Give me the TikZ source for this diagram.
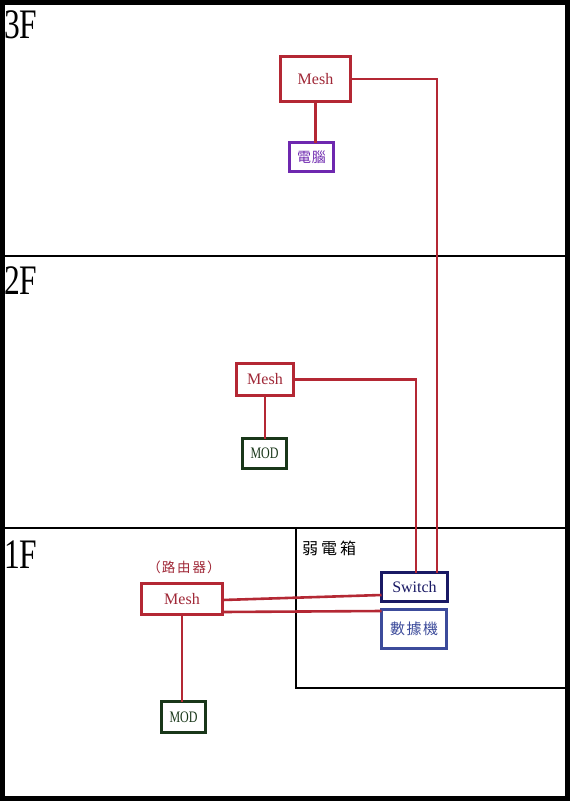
\documentclass[tikz,border=0pt]{standalone}
\usepackage{fontspec}
\setmainfont{Liberation Serif}
\newfontfamily\cjk{Noto Sans CJK TC}
\newfontfamily\cond{Liberation Serif}[FakeStretch=0.75]
\definecolor{meshred}{RGB}{180,40,52}
\definecolor{meshtext}{RGB}{160,40,55}
\definecolor{pcpurple}{RGB}{110,40,175}
\definecolor{modgreen}{RGB}{25,55,25}
\definecolor{swnavy}{RGB}{25,25,100}
\definecolor{modemblue}{RGB}{60,75,155}
\begin{document}
\begin{tikzpicture}[x=1pt,y=-1pt,
  box/.style={draw, line width=3pt, inner sep=0pt, outer sep=0pt},
  wire/.style={draw=meshred, line width=2.6pt},
  floorlbl/.style={anchor=north west, inner sep=0pt, font=\cond\fontsize{42}{42}\selectfont},
  lat/.style={font=\fontsize{16}{16}\selectfont},
  han/.style={font=\cjk\fontsize{14}{14}\selectfont}]
\useasboundingbox (0,0) rectangle (570,801);
\fill[white] (0,0) rectangle (570,801);
% frame and floors
\draw[line width=5pt] (2.5,2.5) rectangle (567.5,798.5);
\draw[line width=2.5pt] (0,256) -- (567,256);
\draw[line width=2.5pt] (0,528) -- (567,528);
\draw[line width=2.5pt] (296,528) rectangle (567,688);
\node[floorlbl] (f3) at (4,10) {3F};
\node[floorlbl] (f2) at (4,266) {2F};
\node[floorlbl] (f1) at (4,541) {1F};
\node[font=\cjk\fontsize{16}{16}\selectfont, anchor=north west, inner sep=0pt] (wbox) at (302,541) {弱\kern3pt 電\kern3pt 箱};
% 3F
\node[box, draw=meshred, text=meshtext, lat, minimum width=70pt, minimum height=45pt] (mesh3) at (315.5,79) {Mesh};
\node[box, draw=pcpurple, text=pcpurple, han, minimum width=44pt, minimum height=29pt] (pc) at (311.5,157) {電\kern1pt 腦};
% 2F
\node[box, draw=meshred, text=meshtext, lat, minimum width=57pt, minimum height=32pt] (mesh2) at (265,379.5) {Mesh};
\node[box, draw=modgreen, text=modgreen, minimum width=44pt, minimum height=30pt, font=\cond\fontsize{16}{16}\selectfont] (mod2) at (264.5,453.5) {MOD};
% 1F
\node[box, draw=meshred, text=meshtext, lat, minimum width=81pt, minimum height=31pt] (mesh1) at (182,599) {Mesh};
\node[font=\cjk\fontsize{13.5}{13.5}\selectfont, text=meshtext, inner sep=0pt] (router) at (184,567) {（\kern1pt 路\kern2pt 由\kern2pt 器\kern1pt ）};
\node[box, draw=modgreen, text=modgreen, minimum width=44pt, minimum height=31pt, font=\cond\fontsize{16}{16}\selectfont] (mod1) at (183.5,717) {MOD};
\node[box, draw=swnavy, text=swnavy, lat, minimum width=66pt, minimum height=29pt] (switch) at (414.5,587) {Switch};
\node[box, draw=modemblue, text=modemblue, font=\cjk\fontsize{15}{15}\selectfont, minimum width=65pt, minimum height=39pt] (modem) at (414,629) {數\kern1.5pt 據\kern1.5pt 機};
% connectors
\draw[wire] (mesh3.south) -- (mesh3.south |- pc.north);
\draw[wire] (mesh2.south) -- (mesh2.south |- mod2.north);
\draw[wire] (mesh1.south) -- (mesh1.south |- mod1.north);
\draw[wire] (mesh3.east) -| ([xshift=22.5pt]switch.north);
\draw[wire] (mesh2.east) -| ([xshift=1.5pt]switch.north);
\draw[wire] ([yshift=-1pt]mesh1.east) -- ([yshift=-8pt]switch.west);
\draw[wire] ([yshift=-13pt]mesh1.east) -- ([yshift=18pt]modem.west);
\end{tikzpicture}
\end{document}
